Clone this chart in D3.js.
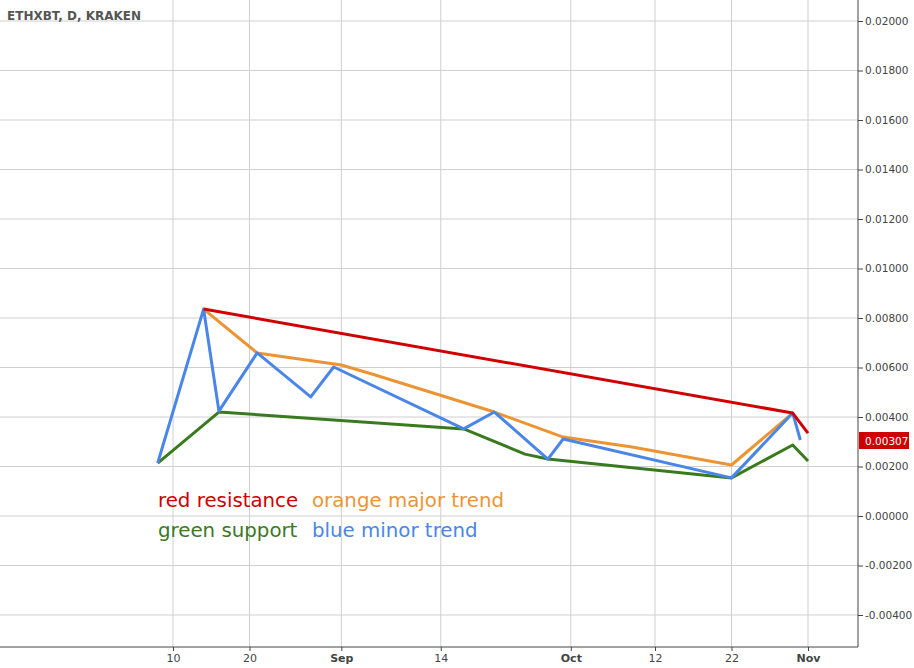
<!DOCTYPE html>
<html><head><meta charset="utf-8">
<script src="https://cdn.jsdelivr.net/npm/d3@7"></script>
<style>body{margin:0;background:#fff}svg{display:block}text{font-family:"DejaVu Sans",sans-serif}</style>
</head><body><div id="chart"></div>
<script>
const redLine = [["2015-08-14",0.00836],["2015-10-30",0.00416],["2015-11-01",0.00335]];
const orangeLine = [["2015-08-14",0.00836],["2015-08-21",0.00659],["2015-09-01",0.0061],["2015-09-05",0.00574],
  ["2015-09-21",0.0042],["2015-09-30",0.00319],["2015-10-09",0.00279],["2015-10-22",0.00206],["2015-10-30",0.00416]];
const blueLine = [["2015-08-08",0.00214],["2015-08-14",0.00836],["2015-08-16",0.00424],["2015-08-21",0.00659],
  ["2015-08-28",0.00481],["2015-08-31",0.00602],["2015-09-17",0.00352],["2015-09-21",0.0042],["2015-09-28",0.0023],
  ["2015-09-30",0.00311],["2015-10-22",0.00154],["2015-10-30",0.00416],["2015-10-31",0.00307]];
const greenLine = [["2015-08-08",0.00214],["2015-08-16",0.0042],["2015-09-17",0.00352],["2015-09-25",0.0025],
  ["2015-09-28",0.0023],["2015-10-22",0.00154],["2015-10-30",0.00287],["2015-11-01",0.00222]];
const xTicks = ["2015-08-10","2015-08-20","2015-09-01","2015-09-14","2015-10-01","2015-10-12","2015-10-22","2015-11-01"];
const yTicks = [-0.004,-0.002,0,0.002,0.004,0.006,0.008,0.010,0.012,0.014,0.016,0.018,0.020];
const lastPrice = 0.00307;

const W = 914, H = 668, plotR = 858, axisY = 647;
const parse = d3.timeParse("%Y-%m-%d");
const svg = d3.select("#chart").append("svg").attr("width", W).attr("height", H);

const x = d3.scaleTime().domain([parse("2015-08-10"), parse("2015-11-01")]).range([173, 808]);
const y = d3.scaleLinear().domain([0, 0.02]).range([516, 21]);

// grid
svg.append("g").selectAll("line").data(yTicks).join("line")
  .attr("x1", 0).attr("x2", plotR).attr("y1", d => y(d)).attr("y2", d => y(d))
  .attr("stroke", "#cfcfcf");
svg.append("g").selectAll("line").data(xTicks).join("line")
  .attr("x1", d => x(parse(d))).attr("x2", d => x(parse(d))).attr("y1", 0).attr("y2", axisY)
  .attr("stroke", "#cfcfcf");

// axes
const fmt = d => d.getDate() === 1 ? d3.timeFormat("%b")(d) : d3.timeFormat("%-d")(d);
const xa = svg.append("g").attr("transform", `translate(0,${axisY})`)
  .call(d3.axisBottom(x).tickValues(xTicks.map(parse)).tickFormat(fmt).tickSize(4));
xa.select(".domain").attr("d", `M0,0H${plotR}`).attr("stroke", "#444");
xa.selectAll("text").attr("font-size", 11).attr("fill", "#444")
  .attr("font-weight", d => d.getDate() === 1 ? "bold" : "normal")
  .attr("font-family", "Liberation Sans Narrow, Liberation Sans, sans-serif");
xa.selectAll(".tick line").attr("stroke", "#444");

const yfmt = d => (d < 0 ? "-" : "") + d3.format(".5f")(Math.abs(d));
const ya = svg.append("g").attr("transform", `translate(${plotR},0)`)
  .call(d3.axisRight(y).tickValues(yTicks).tickFormat(yfmt).tickSize(5));
ya.select(".domain").attr("d", `M0,0V${axisY}`).attr("stroke", "#444");
ya.selectAll("text").attr("font-size", 10.5).attr("fill", "#444").attr("x", 7)
  .attr("font-family", "Liberation Sans, sans-serif");
ya.selectAll(".tick line").attr("stroke", "#444");

// series
const line = d3.line().x(d => x(parse(d[0]))).y(d => y(d[1]));
[[greenLine,"#3a7a1e"],[orangeLine,"#ec9433"],[blueLine,"#4a86e8"],[redLine,"#d00000"]].forEach(([data, c]) => {
  svg.append("path").datum(data).attr("d", line).attr("fill", "none")
    .attr("stroke", c).attr("stroke-width", 3).attr("stroke-linejoin", "round");
});

// last price label
const lp = svg.append("g").attr("transform", `translate(${plotR},${y(lastPrice)})`);
lp.append("rect").attr("x", 1).attr("y", -8).attr("width", 50).attr("height", 17).attr("fill", "#d00000");
lp.append("text").attr("x", 7).attr("y", 4.5).attr("fill", "#fff").attr("font-size", 10.5)
  .attr("font-family", "Liberation Sans, sans-serif").text(d3.format(".5f")(lastPrice));

// title
svg.append("text").attr("x", 7).attr("y", 20).attr("font-size", 12).attr("font-weight", "bold")
  .attr("fill", "#555").attr("font-family", "Open Sans, sans-serif").text("ETHXBT, D, KRAKEN");

// annotations
const ann = [["red resistance","#d00000",158,507],["orange major trend","#ec9433",312,507],
  ["green support","#3a7a1e",158,537],["blue minor trend","#4a86e8",312,537]];
svg.append("g").selectAll("text").data(ann).join("text")
  .attr("x", d => d[2]).attr("y", d => d[3]).attr("fill", d => d[1]).attr("font-size", 19.8)
  .text(d => d[0]);
</script></body></html>
